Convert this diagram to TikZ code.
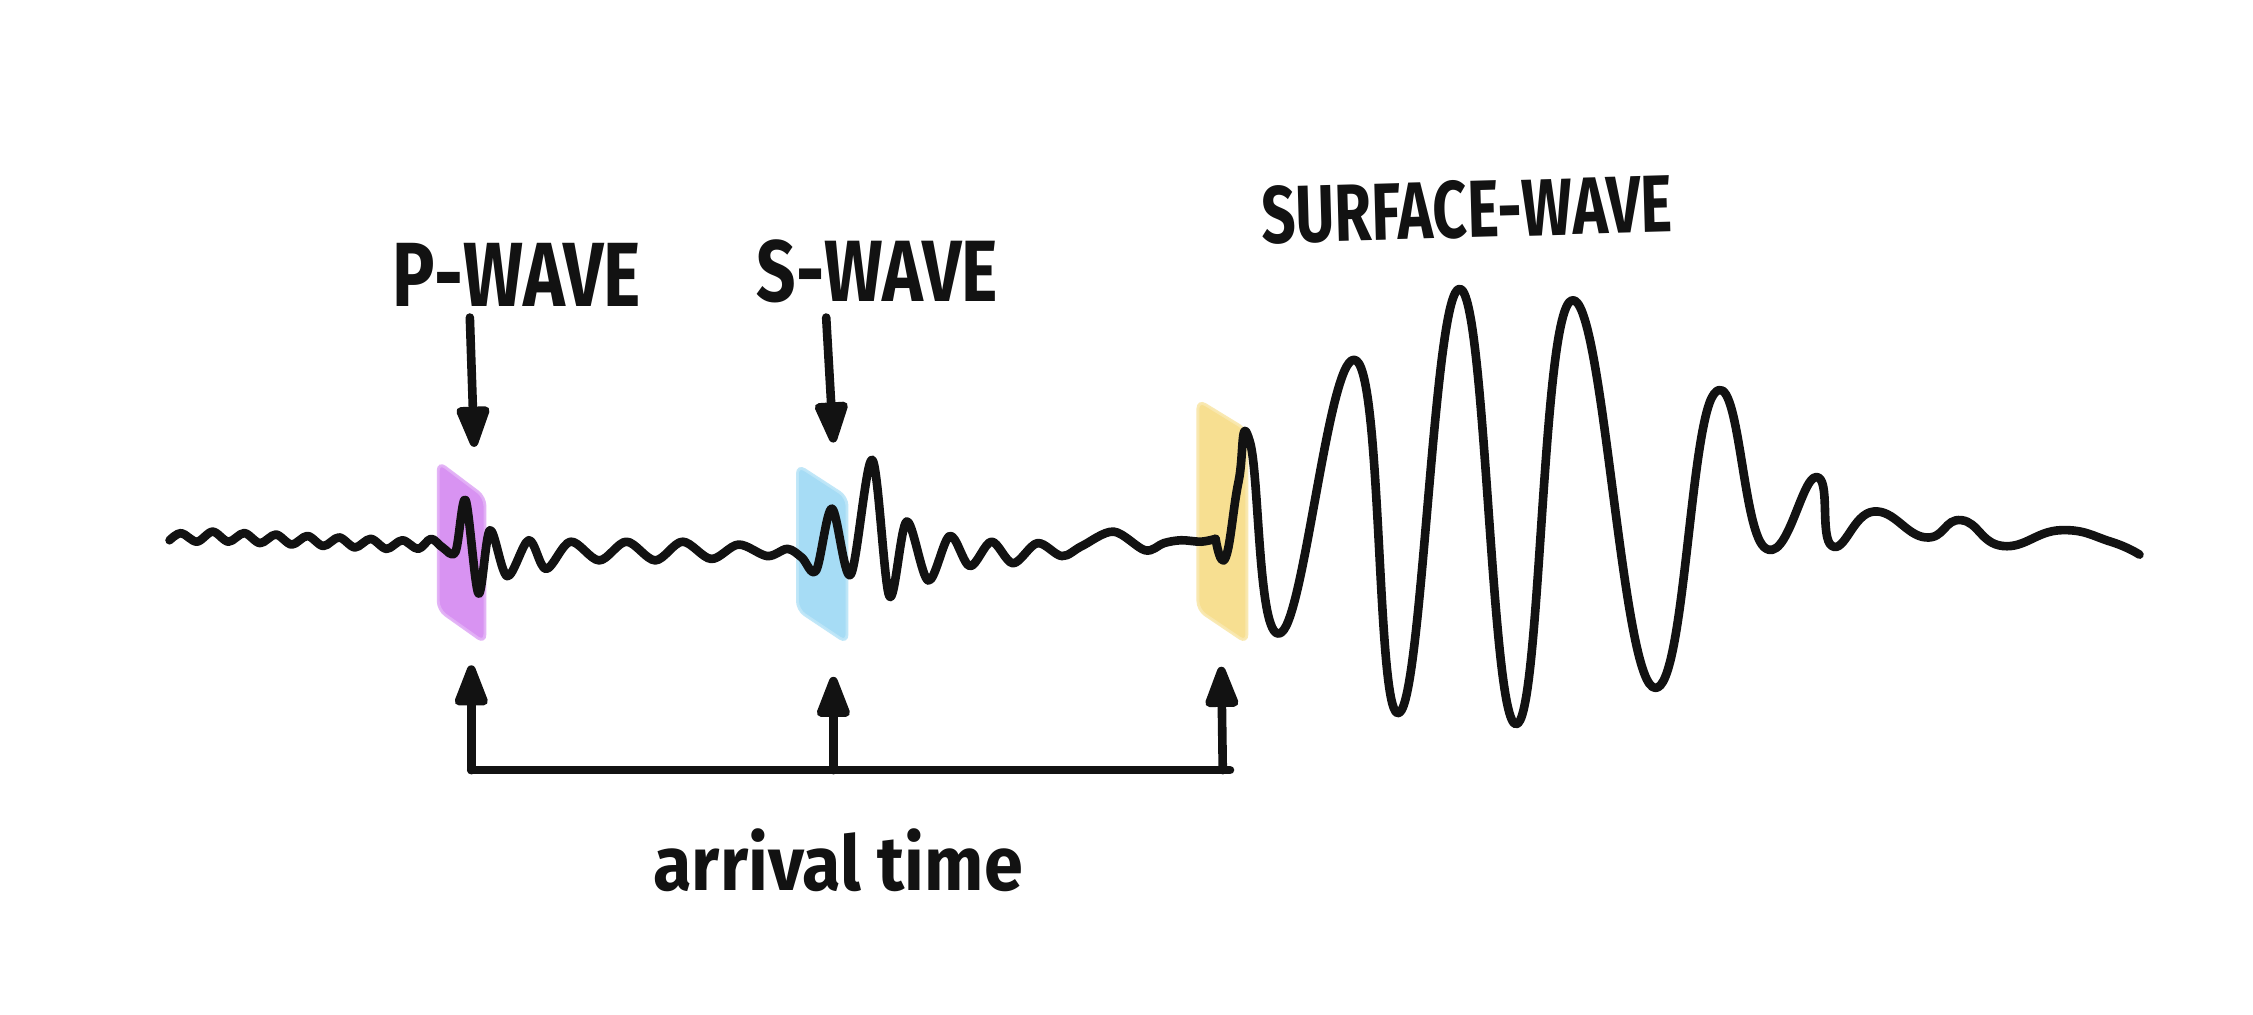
\documentclass[tikz,border=0pt]{standalone}
\usepackage{fontspec}
\setmainfont{Fira Sans}
\usepackage{graphicx}
\usetikzlibrary{arrows.meta}
\definecolor{pcol}{RGB}{214,142,242}
\definecolor{scol}{RGB}{162,219,245}
\definecolor{ycol}{RGB}{247,222,140}
\definecolor{ink}{RGB}{18,18,18}
\tikzset{
  wave/.style={draw=ink, line width=6pt, line cap=round, line join=round},
  arr/.style={draw=ink, line width=6pt, line cap=round, line join=round,
    -{Triangle[width=24pt,length=34pt,round]}},
  band/.style={fill=#1, draw=#1!70!white, line width=2pt, rounded corners=6pt, opacity=0.95},
  lbl/.style={inner sep=0pt, text=ink}
}
\begin{document}
\begin{tikzpicture}[x=1pt,y=-1pt]
\fill[white] (0,0) rectangle (1568,706);
\useasboundingbox (0,0) rectangle (1568,706);

% coloured arrival bands
\path[band=pcol] (305,321.5) -- (337.5,346) -- (337.5,447.5) -- (305,424.5) -- cycle;
\path[band=scol] (555,323.6) -- (589.5,346) -- (589.5,447.5) -- (555,424.5) -- cycle;
\path[band=ycol] (833.7,278.4) -- (867.8,299.3) -- (867.8,447.5) -- (833.7,424.5) -- cycle;

% seismogram: background noise, P and S arrivals
\draw[wave] plot[smooth, tension=0.55] coordinates {
 (118,376) (126,371) (137,377) (148,370) (159,377) (170,371) (181,378) (192,372)
 (203,379) (214,373) (225,380) (236,374) (247,381) (258,375) (269,382) (280,376)
 (291,382) (300,375) (308,381) (317,384)
 (324,348) (333,413) (341,369) (353,401) (368,376) (380,396) (397,377) (417,390)
 (436,377) (456,390) (475,377) (495,389) (514,379) (534,387) (548,382) (558,388)
 (568,397) (579,354) (592,400) (607,320) (619,415) (631,363) (646,404) (661,373)
 (675,394) (690,377) (705,392) (722,378) (739,387) (753,380) (775,370) (797,383)
 (810,378) (822,376) (836,377) (846,375)};
% surface wave train
\draw[wave] plot[smooth, tension=0.8] coordinates {
 (846,375) (853,388) (862,335) (870,308) (892,440)
 (944,251) (974,496) (1016,201) (1055,504) (1094,209) (1150,478) (1193,274)
 (1228,381) (1264,332) (1275,380) (1304,356) (1340,374) (1365,362) (1394,380)
 (1434,369) (1469,377) (1489,386)};

% labels
\node[lbl, anchor=base west] (plabel) at (273,213) {\resizebox{173pt}{44pt}{\bfseries P-WAVE}};
\node[lbl, anchor=base west] (slabel) at (526.5,210) {\resizebox{168pt}{43pt}{\bfseries S-WAVE}};
\node[lbl, rotate=1.6] (surflabel) at (1021,146) {\resizebox{286pt}{40pt}{\bfseries SURFACE-WAVE}};
\node[lbl, anchor=base west] (arrlabel) at (454.6,619.5) {\resizebox{257pt}{43pt}{\bfseries arrival time}};

% arrow anchor points
\coordinate (ptail) at (327,221);
\coordinate (ptop) at (330,311);
\coordinate (stail) at (575,221);
\coordinate (stop) at (580,308);
\coordinate (b1) at (328,536);
\coordinate (b2) at (580,536);
\coordinate (b3) at (851,536);
\coordinate (b3e) at (856,536);
\coordinate (u1) at (328,463);
\coordinate (u2) at (580,471);
\coordinate (u3) at (850,464);

% arrows from labels down to bands
\draw[arr] (ptail) -- (ptop);
\draw[arr] (stail) -- (stop);

% arrival-time bracket
\draw[wave] (b1) -- (b3e);
\draw[arr] (b1) -- (u1);
\draw[arr] (b2) -- (u2);
\draw[arr] (b3) -- (u3);
\end{tikzpicture}
\end{document}
